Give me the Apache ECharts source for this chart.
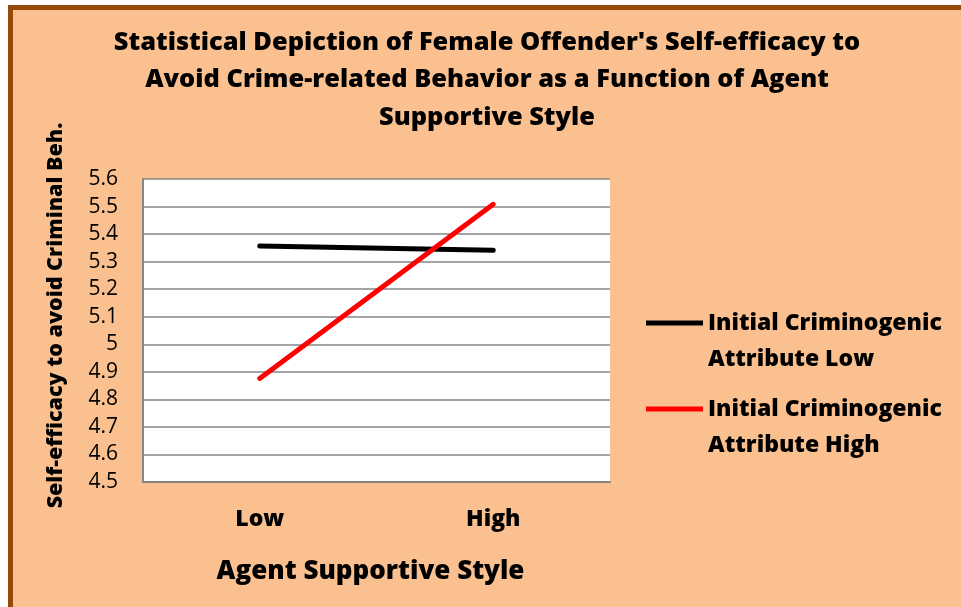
<!DOCTYPE html>
<html><head><meta charset="utf-8">
<script src="https://cdn.jsdelivr.net/npm/echarts@6/dist/echarts.min.js"></script>
<style>
html,body{margin:0;padding:0;background:#fff;}
#wrap{position:relative;width:961px;height:607px;overflow:hidden;background:#fff;}
#frame{position:absolute;left:8px;top:5px;width:1000px;height:597px;border:5px solid #984807;background:#FAC090;}
#c{position:absolute;left:0;top:0;width:961px;height:607px;}
</style></head>
<body><div id="wrap"><div id="frame"></div><div id="c"></div></div>
<script>
const categories = ['Low', 'High'];
const seriesNames = ['Initial Criminogenic Attribute Low', 'Initial Criminogenic Attribute High'];
const lowValues = [5.357, 5.341];
const highValues = [4.876, 5.508];
const yMin = 4.5, yMax = 5.6, yStep = 0.1;

const FONT = 'Open Sans';
const W = 800;
const chart = echarts.init(document.getElementById('c'), null, {renderer: 'canvas'});
const legendFmt = n => n === seriesNames[0] ? '\nInitial Criminogenic\nAttribute Low' : '\nInitial Criminogenic\nAttribute High';
const legendCommon = {
  orient: 'vertical', left: 641, icon: 'rect', itemWidth: 57, itemHeight: 5, itemGap: 0,
  textStyle: {fontFamily: FONT, fontWeight: W, fontSize: 23, color: '#000', lineHeight: 36},
  formatter: legendFmt, selectedMode: false
};
chart.setOption({
  backgroundColor: 'transparent',
  animation: false,
  title: {
    text: "Statistical Depiction of Female Offender's Self-efficacy to\nAvoid Crime-related Behavior as a Function of Agent\nSupportive Style",
    left: 482, top: 19, textAlign: 'center',
    textStyle: {fontFamily: FONT, fontWeight: W, fontSize: 25.4, color: '#000', lineHeight: 37.5}
  },
  legend: [
    Object.assign({}, legendCommon, {top: 264, data: [seriesNames[0]]}),
    Object.assign({}, legendCommon, {top: 350, data: [seriesNames[1]]})
  ],
  grid: {left: 143, top: 179, right: 351, bottom: 125, show: true, backgroundColor: '#fff', borderWidth: 0},
  xAxis: {
    type: 'category', data: categories, boundaryGap: true,
    axisLine: {lineStyle: {color: '#868686', width: 2}},
    axisTick: {show: false},
    axisLabel: {fontFamily: FONT, fontWeight: W, fontSize: 23, color: '#000', margin: 26},
    name: 'Agent Supportive Style', nameLocation: 'middle', nameGap: 77,
    nameTextStyle: {fontFamily: FONT, fontWeight: W, fontSize: 26, color: '#000', padding: [0, 12, 0, 0]}
  },
  yAxis: {
    type: 'value', min: yMin, max: yMax, interval: yStep,
    axisLine: {show: true, lineStyle: {color: '#868686', width: 2}},
    axisTick: {show: false},
    splitLine: {lineStyle: {color: '#868686', width: 1.5}},
    axisLabel: {fontFamily: FONT, fontSize: 21, color: '#000', margin: 25,
      formatter: v => String(Math.round(v * 10) / 10)},
    name: 'Self-efficacy to avoid Criminal Beh.', nameLocation: 'middle', nameGap: 76,
    nameTextStyle: {fontFamily: FONT, fontWeight: W, fontSize: 21.5, color: '#000', padding: [0, 0, 0, 30]}
  },
  series: [
    {name: seriesNames[0], type: 'line', data: lowValues, symbol: 'none', color: '#000',
     lineStyle: {color: '#000', width: 5, cap: 'round'}},
    {name: seriesNames[1], type: 'line', data: highValues, symbol: 'none', color: '#FF0000',
     lineStyle: {color: '#FF0000', width: 5, cap: 'round'}}
  ]
});
</script></body></html>
